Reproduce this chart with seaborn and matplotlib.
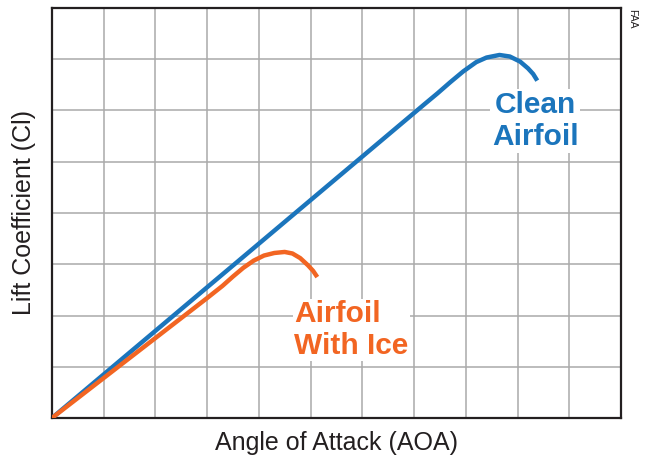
import matplotlib
matplotlib.use("Agg")
import matplotlib.pyplot as plt
import seaborn as sns
import pandas as pd

# data (grid units: 11 x 8 cells)
clean_aoa = [0, 2, 4, 6, 7.2, 7.45, 7.7, 7.95, 8.2, 8.4, 8.65, 8.85, 9.05, 9.2, 9.3, 9.38]
clean_cl = [0, 1.7, 3.4, 5.1, 6.12, 6.33, 6.55, 6.76, 6.94, 7.03, 7.08, 7.05, 6.95, 6.82, 6.71, 6.58]
ice_aoa = [0, 1, 2, 3, 3.3, 3.5, 3.7, 3.9, 4.1, 4.3, 4.5, 4.65, 4.8, 4.95, 5.05, 5.13]
ice_cl = [0, 0.78, 1.56, 2.34, 2.58, 2.76, 2.93, 3.07, 3.17, 3.22, 3.24, 3.21, 3.12, 2.98, 2.87, 2.75]

blue = "#1B75BC"
orange = "#F26522"

clean_df = pd.DataFrame({"aoa": clean_aoa, "cl": clean_cl})
ice_df = pd.DataFrame({"aoa": ice_aoa, "cl": ice_cl})

sns.set_style("white")
plt.rcParams["font.family"] = ["Liberation Sans", "DejaVu Sans"]

fig, ax = plt.subplots(figsize=(6.47, 4.58), dpi=100)
fig.subplots_adjust(left=0.08, right=0.96, top=0.983, bottom=0.087)

sns.lineplot(data=clean_df, x="aoa", y="cl", sort=False, color=blue, lw=3.2, ax=ax, zorder=3,
             solid_joinstyle="round", solid_capstyle="butt")
sns.lineplot(data=ice_df, x="aoa", y="cl", sort=False, color=orange, lw=3.2, ax=ax, zorder=4,
             solid_joinstyle="round", solid_capstyle="butt")

ax.set_xlim(0, 11)
ax.set_ylim(0, 8)
ax.set_xticks(range(12))
ax.set_yticks(range(9))
ax.set_xticklabels([])
ax.set_yticklabels([])
ax.tick_params(length=0)
ax.grid(True, color="#aaaaaa", lw=1.1)
for s in ax.spines.values():
    s.set_color("#231f20")
    s.set_linewidth(1.6)

ax.set_xlabel("Angle of Attack (AOA)", fontsize=18, color="#231f20", labelpad=6)
ax.set_ylabel("Lift Coefficient (Cl)", fontsize=18, color="#231f20", labelpad=8)

ax.text(9.34, 6.38, "Clean\nAirfoil", color=blue, fontsize=21.5, fontweight="bold",
        ha="center", va="top", linespacing=1.2,
        bbox=dict(facecolor="white", edgecolor="none", pad=1), zorder=5)
ax.text(4.68, 2.3, "Airfoil\nWith Ice", color=orange, fontsize=21.5, fontweight="bold",
        ha="left", va="top", linespacing=1.16,
        bbox=dict(facecolor="white", edgecolor="none", pad=1), zorder=5)

fig.text(0.977, 0.98, "FAA", rotation=-90, fontsize=7.5, color="#231f20", ha="center", va="top")

fig.savefig("out.png", dpi=100)
